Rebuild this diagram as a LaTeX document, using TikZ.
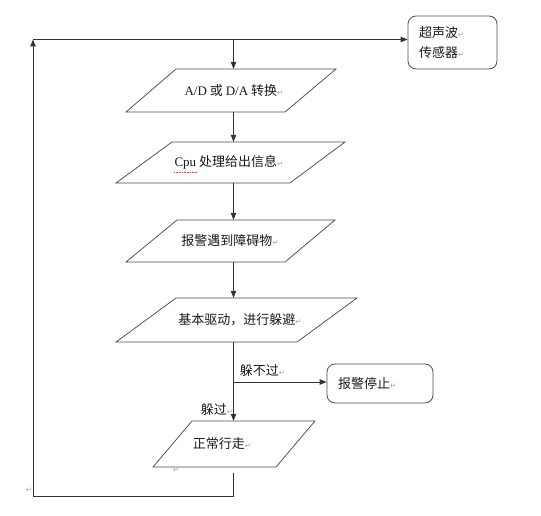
\documentclass[tikz,border=0pt]{standalone}
\usepackage{fontspec}
\setmainfont{Liberation Serif}
\newfontfamily\cjk{Noto Sans CJK SC}
\newfontfamily\symf{DejaVu Sans}
\usetikzlibrary{arrows.meta}
\newcommand\pmark{{\symf\color{black!35}\fontsize{7.5}{7.5}\selectfont ↵}}
\begin{document}
\begin{tikzpicture}[x=1pt,y=-1pt,
  ln/.style={draw=black!80, line width=0.8pt},
  arr/.style={ln, -{Triangle[length=7pt,width=5.5pt]}},
  pg/.style={draw=black!70, line width=0.75pt},
  lbl/.style={font=\cjk\fontsize{13}{20}\selectfont, text=black!90, inner sep=0pt},
  rbox/.style={draw=black!70, line width=0.8pt, rounded corners=8pt}]
\useasboundingbox (0,0) rectangle (541,516);

% parallelograms
\draw[pg] (176,69) -- (336,69) -- (285,112) -- (126,112) -- cycle;
\node[lbl, minimum height=43pt] (p1) at (234,90.5) {{\rmfamily A/D} 或 {\rmfamily D/A} 转换\pmark};

\draw[pg] (172,142) -- (345,142) -- (290,183) -- (116,183) -- cycle;
\node[lbl, minimum height=41pt] (p2) at (229,162.5) {{\rmfamily Cpu} 处理给出信息\pmark};
\draw[red!80, densely dotted, line width=0.6pt] (174,172.5) -- (197,172.5);

\draw[pg] (177,220) -- (335,220) -- (285,262) -- (126,262) -- cycle;
\node[lbl, minimum height=42pt] (p3) at (230,241) {报警遇到障碍物\pmark};

\draw[pg] (176,298) -- (357,298) -- (297,342) -- (116,342) -- cycle;
\node[lbl, minimum height=44pt] (p4) at (240,320) {基本驱动，进行躲避\pmark};

\draw[pg] (192,421) -- (315,421) -- (276,467) -- (153,467) -- cycle;
\node[lbl, minimum height=46pt] (p5) at (222,444) {正常行走\pmark};

% boxes
\node[rbox, lbl, align=left, text width=67pt, inner xsep=11pt, minimum height=53pt] (sensor) at (452.5,42.5) {超声波\pmark\\传感器\pmark};
\node[rbox, lbl, align=left, text width=84pt, inner xsep=11pt, minimum height=39pt] (stop) at (380,383.5) {报警停止\pmark};

% labels
\node[lbl] (l1) at (262.5,371) {躲不过\pmark};
\node[lbl] (l2) at (217,410) {躲过\pmark};
\node[inner sep=0pt] (m1) at (29,490) {\pmark};
\node[inner sep=0pt] (m2) at (176,470) {\pmark};

% coordinates
\coordinate (spine) at (233.5,0);
\coordinate (tl) at (33,39.5);
\coordinate (bl) at (33,496);
\coordinate (br) at (233.5,382);
\coordinate (ls) at (233.5,473);

% connectors
\draw[arr] (tl) -- (sensor.west |- tl);
\draw[arr] (spine |- tl) -- (p1.north -| spine);
\draw[arr] (p1.south -| spine) -- (p2.north -| spine);
\draw[arr] (p2.south -| spine) -- (p3.north -| spine);
\draw[arr] (p3.south -| spine) -- (p4.north -| spine);
\draw[arr] (p4.south -| spine) -- (p5.north -| spine);
\draw[arr] (br) -- (stop.west |- br);
\draw[arr] (ls) |- (bl) -- (tl);
\end{tikzpicture}
\end{document}
